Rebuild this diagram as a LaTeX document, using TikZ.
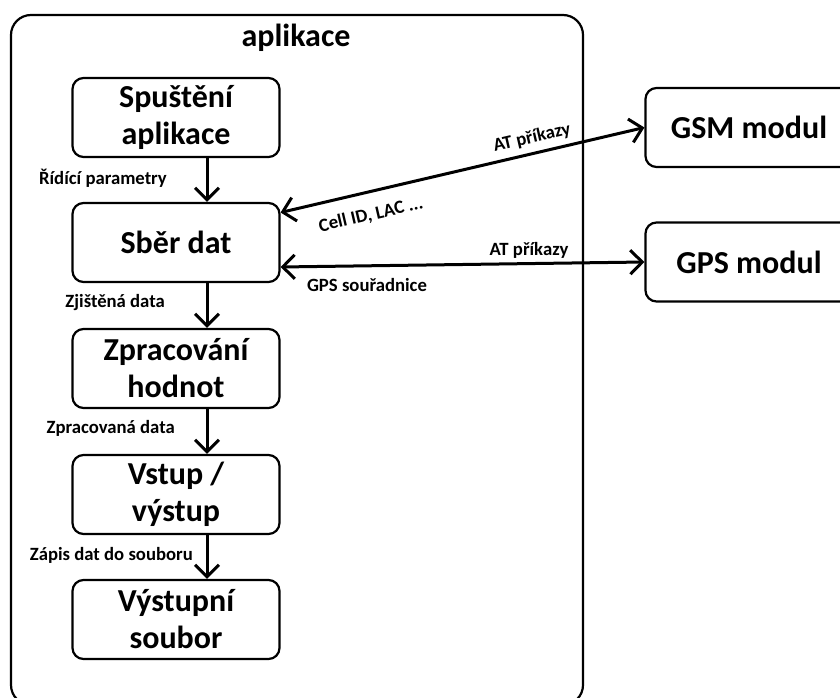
\documentclass[tikz,border=0pt]{standalone}
\usepackage{fontspec}
\setmainfont{Carlito}
\usetikzlibrary{arrows.meta,calc}
\begin{document}
\begin{tikzpicture}[x=1pt,y=-1pt,
  box/.style={draw, line width=2.2pt, rounded corners=11pt, minimum width=207pt,
    minimum height=79pt, align=center, inner sep=0pt,
    font=\bfseries\fontsize{32}{37}\selectfont},
  outer/.style={draw, line width=2.2pt, rounded corners=20pt, minimum width=572pt,
    minimum height=690pt, inner sep=0pt},
  lbl/.style={font=\bfseries\fontsize{18.7}{22}\selectfont, inner sep=0pt},
  barb/.tip={Straight Barb[length=12pt,width=24pt,line width=3pt]},
  arr/.style={line width=3pt, -{barb}},
  darr/.style={line width=3pt, {barb}-{barb}}
]
\useasboundingbox (0,0) rectangle (840,698);

\node[outer] (app) at (297,360) {};
\node[font=\bfseries\fontsize{32}{37}\selectfont, anchor=base, inner sep=0pt] (title) at (296,47) {aplikace};

\node[box] (b1) at (176,117.5) {Spuštění\\aplikace};
\node[box] (b2) at (176,242.5) {Sběr dat};
\node[box] (b3) at (176,368.5) {Zpracování\\hodnot};
\node[box] (b4) at (176,494.5) {Vstup /\\výstup};
\node[box] (b5) at (176,619.5) {Výstupní\\soubor};

\node[box] (gsm) at (749,127.5) {GSM modul};
\node[box] (gps) at (749,262) {GPS modul};

\coordinate (ax) at (207,0);

\draw[arr] (b1.south -| ax) -- (b2.north -| ax);
\draw[arr] (b2.south -| ax) -- (b3.north -| ax);
\draw[arr] (b3.south -| ax) -- (b4.north -| ax);
\draw[arr] (b4.south -| ax) -- (b5.north -| ax);

\node[lbl, anchor=east] (l1) at (167,178) {Řídící parametry};
\node[lbl, anchor=east] (l2) at (165,303) {Zjištěná data};
\node[lbl, anchor=east] (l3) at (175,428) {Zpracovaná data};
\node[lbl, anchor=east] (l4) at (193,555) {Zápis dat do souboru};

\draw[darr] ([yshift=30pt]b2.east) -- (gsm.west);
\draw[darr] ([yshift=-24.5pt]b2.east) -- (gps.west);

\node[lbl, rotate=13] (at1) at (532,138) {AT příkazy};
\node[lbl, rotate=13] (cell) at (371,215) {Cell ID, LAC ...};
\node[lbl] (at2) at (529,250) {AT příkazy};
\node[lbl] (gpsc) at (367,285) {GPS souřadnice};
\end{tikzpicture}
\end{document}
